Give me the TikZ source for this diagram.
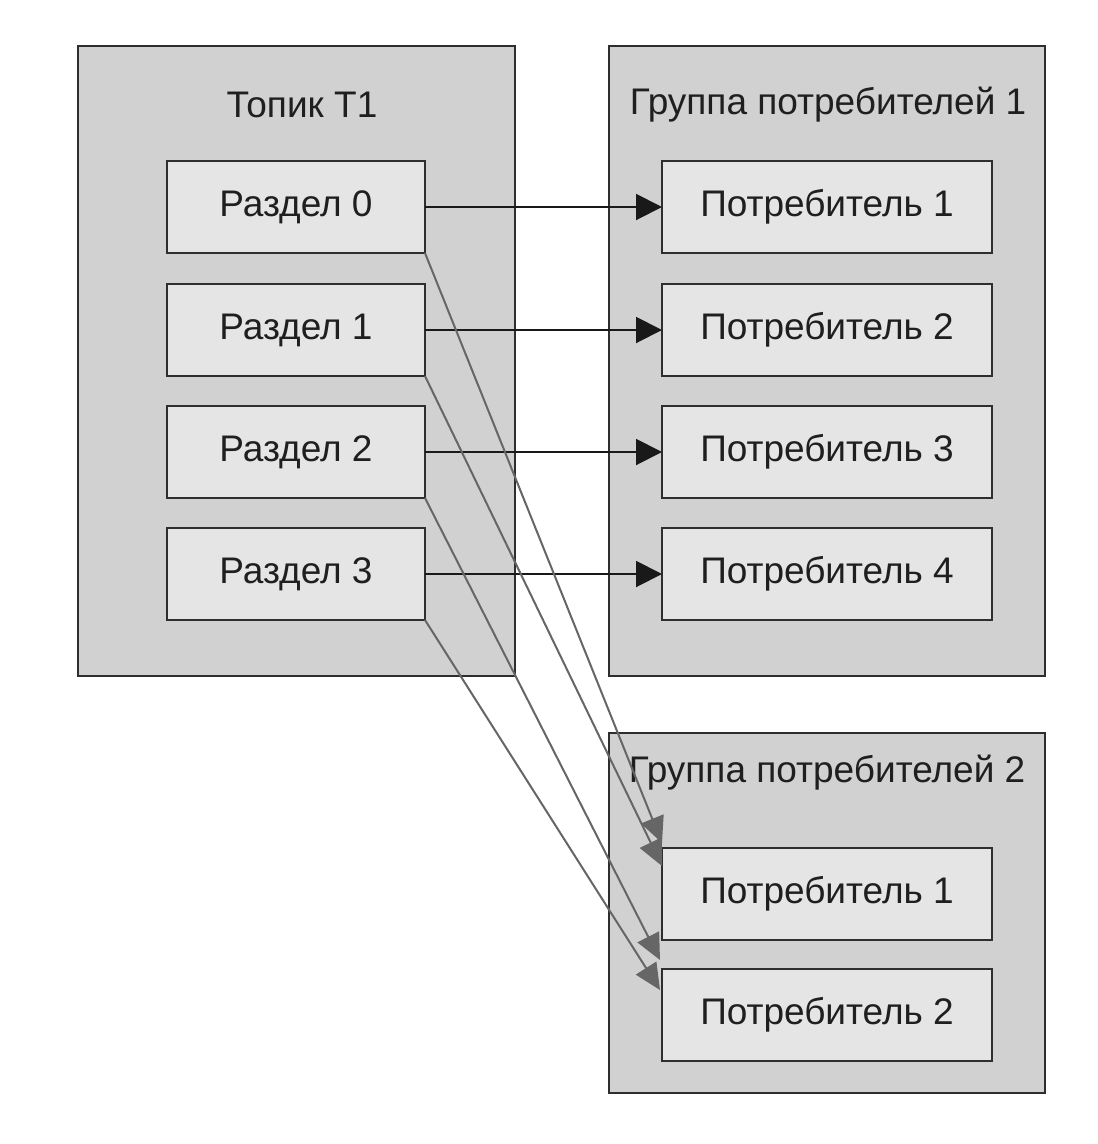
\documentclass[tikz,border=0pt]{standalone}
\usepackage{fontspec}
\setmainfont{Liberation Sans}
\usetikzlibrary{arrows.meta,calc}
\definecolor{outerfill}{gray}{0.82}
\definecolor{innerfill}{gray}{0.90}
\definecolor{edgecol}{gray}{0.18}
\definecolor{grayarrow}{gray}{0.40}
\definecolor{textcol}{gray}{0.12}
\begin{document}
\begin{tikzpicture}[x=1pt,y=-1pt,
  outerbox/.style={draw=edgecol,fill=outerfill,line width=2pt,anchor=north west,inner sep=0pt,outer sep=0pt},
  innerbox/.style={draw=edgecol,fill=innerfill,line width=2pt,anchor=north west,inner sep=0pt,outer sep=0pt,
     minimum width=258pt,minimum height=92pt,text=textcol,font=\fontsize{37}{42}\selectfont},
  cbox/.style={innerbox,minimum width=330pt},
  titletext/.style={font=\fontsize{37}{42}\selectfont,text=textcol,inner sep=0pt},
  blackarrow/.style={draw=black!90,line width=2pt,-{Triangle[length=26pt,width=26pt]}},
  grayarr/.style={draw=grayarrow,line width=2pt,-{Triangle[length=26pt,width=24pt]}}
]
\useasboundingbox (0,0) rectangle (1098,1144);
\fill[white] (0,0) rectangle (1098,1144);
% containers
\node[outerbox,minimum width=437pt,minimum height=630pt] (topic) at (78,46) {};
\node[outerbox,minimum width=436pt,minimum height=630pt] (grp1) at (609,46) {};
\node[outerbox,minimum width=436pt,minimum height=360pt] (grp2) at (609,733) {};
% titles
\node[titletext] (ttopic) at (302,105) {Топик T1};
\node[titletext] (tgrp1) at (828,105) {Группа потребителей 1};
\node[titletext] (tgrp2) at (827,773) {Группа потребителей 2};
% partitions
\node[innerbox] (p0) at (167,161) {Раздел 0};
\node[innerbox] (p1) at (167,284) {Раздел 1};
\node[innerbox] (p2) at (167,406) {Раздел 2};
\node[innerbox] (p3) at (167,528) {Раздел 3};
% group 1 consumers
\node[cbox] (c10) at (662,161) {Потребитель 1};
\node[cbox] (c11) at (662,284) {Потребитель 2};
\node[cbox] (c12) at (662,406) {Потребитель 3};
\node[cbox] (c13) at (662,528) {Потребитель 4};
% group 2 consumers
\node[cbox] (c20) at (662,848) {Потребитель 1};
\node[cbox] (c21) at (662,969) {Потребитель 2};
% black arrows
\draw[blackarrow] (p0.east) -- (c10.west);
\draw[blackarrow] (p1.east) -- (c11.west);
\draw[blackarrow] (p2.east) -- (c12.west);
\draw[blackarrow] (p3.east) -- (c13.west);
% gray arrows
\draw[grayarr] (p0.south east) -- ($(c20.north west)+(0,-5)$);
\draw[grayarr] (p1.south east) -- ($(c20.north west)+(0,18)$);
\draw[grayarr] (p2.south east) -- ($(c21.north west)+(-2,-9)$);
\draw[grayarr] (p3.south east) -- ($(c21.north west)+(-2,21)$);
\end{tikzpicture}
\end{document}
